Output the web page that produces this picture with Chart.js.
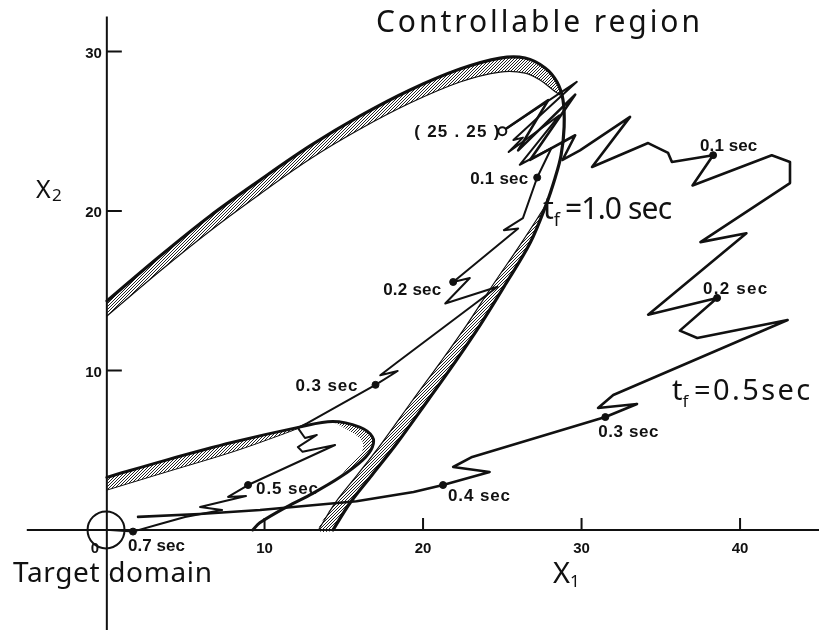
<!DOCTYPE html>
<html>
<head>
<meta charset="utf-8">
<title>Controllable region</title>
<script src="https://cdn.jsdelivr.net/npm/chart.js@4.4.1/dist/chart.umd.min.js"></script>
<style>
  html, body { margin: 0; padding: 0; background: #ffffff; }
  canvas { display: block; }
</style>
</head>
<body>
<canvas id="phase" width="819" height="630"></canvas>
<script>
// Axis ticks
const xTickValues = [10, 20, 30, 40];
const xTickLabels = ['10', '20', '30', '40'];
const yTickValues = [10, 20, 30];
const yTickLabels = ['10', '20', '30'];

// Controllable region for tf = 1.0 sec: outer boundary
const bigOuter = [
  [0.06, 14.36], [3.41, 17.18], [6.56, 19.69], [9.72, 21.94], [12.87, 24.08], [16.03, 25.96],
  [19.18, 27.59], [22.33, 28.9], [24.86, 29.59], [26.44, 29.59], [27.7, 28.97], [28.45, 28.09],
  [28.83, 26.96], [28.9, 25.27], [28.71, 23.51], [28.33, 22.07], [27.76, 20.38], [26.75, 17.99],
  [25.17, 15.36], [23.6, 12.85], [22.02, 10.53], [20.32, 8.15], [18.36, 5.45], [16.78, 3.45],
  [15.39, 1.69], [14.32, 0]
];
// inner edge of the hatched strip along the upper arc
const bigInnerTop = [
  [0.06, 13.42], [3.41, 16.24], [6.56, 18.75], [9.72, 21.07], [12.87, 23.26], [16.03, 25.14],
  [19.18, 26.77], [22.33, 28.09], [24.86, 28.71], [26.44, 28.65], [27.38, 28.21], [28.2, 27.59],
  [28.64, 27.27]
];
// inner edge of the hatched strip along the descending side
const bigInnerRight = [
  [27.76, 20.38], [26.2, 17.99], [24.4, 15.36], [22.75, 12.85], [21.1, 10.53], [19.35, 8.15],
  [17.4, 5.45], [15.85, 3.45], [14.45, 1.69], [13.4, 0]
];

// Controllable region for tf = 0.5 sec
const smallOuter = [
  [0.05, 3.3], [3.85, 4.4], [8.0, 5.5], [12.2, 6.45], [14.3, 6.8], [16.0, 6.45],
  [16.8, 5.85], [16.8, 5.2], [16.2, 4.4], [14.75, 3.3], [13.05, 2.3], [11.4, 1.45],
  [9.7, 0.45], [9.25, 0]
];
const smallInnerTop = [
  [0.05, 2.5], [3.85, 3.65], [8.0, 4.9], [11.0, 5.95], [12.2, 6.4]
];
const smallInnerRight = [
  [14.3, 6.8], [15.7, 6.0], [16.2, 5.5], [16.1, 4.8], [15.4, 4.1], [14.75, 3.3]
];

// Trajectories starting from the initial state (25, 25)
const pathTf10 = [
  [25, 25], [29.7, 28.1], [25.7, 24.45], [26.3, 24.6], [25.4, 23.7], [28.6, 26.0],
  [26.1, 22.9], [28.1, 23.95], [27.2, 22.1], [26.3, 19.55], [25.1, 18.8], [26.0, 18.9],
  [21.9, 15.55], [22.95, 15.8], [21.4, 14.2], [24.7, 15.25], [18.35, 10.5], [17.3, 9.7],
  [18.4, 9.97], [17.0, 9.1], [12.7, 6.7], [12.1, 6.4], [12.55, 5.77], [13.3, 5.96],
  [12.1, 5.2], [12.4, 4.9], [14.45, 5.33], [8.96, 2.82], [7.7, 2.07], [8.83, 2.13],
  [5.93, 1.44], [7.32, 1.25], [4.98, 0.82], [3.4, 0.38], [1.7, -0.1], [0.25, 0]
];
const pathTf05 = [
  [25, 25], [27.9, 26.95], [26.0, 23.8], [29.6, 27.3], [26.75, 23.2], [29.6, 24.75],
  [28.8, 23.2], [29.9, 23.8], [33.06, 25.9], [30.66, 22.76], [34.2, 24.26], [35.46, 23.64],
  [35.7, 23.07], [38.3, 23.5], [37.0, 21.6], [42.0, 23.5], [43.15, 23.07], [43.15, 21.75],
  [37.5, 18.05], [40.4, 18.6], [34.2, 13.5], [38.55, 14.55], [36.2, 12.5], [37.3, 12.04],
  [43.0, 13.17], [32.0, 8.46], [31.04, 7.65], [33.5, 7.9], [31.5, 7.08], [23.1, 4.58],
  [21.9, 3.95], [24.2, 3.64], [21.26, 2.82], [19.4, 2.38], [15.8, 1.8], [9.72, 1.25],
  [5.9, 1.0], [2.02, 0.82]
];

// Time marks along each trajectory
const tf10TimeLabels = ['0.1 sec', '0.2 sec', '0.3 sec', '0.5 sec', '0.7 sec'];
const tf10TimeX = [27.2, 21.9, 17.0, 8.96, 1.7];
const tf10TimeY = [22.1, 15.55, 9.1, 2.82, -0.1];
const tf05TimeLabels = ['0.1 sec', '0.2 sec', '0.3 sec', '0.4 sec'];
const tf05TimeX = [38.3, 38.55, 31.5, 21.26];
const tf05TimeY = [23.5, 14.55, 7.08, 2.82];

const startState = [25, 25];
const startLabel = '( 25 . 25 )';
const targetCenter = [0, 0];

// ---------------------------------------------------------------
const INK = '#111111';
const pts = arr => arr.map(([x, y]) => ({ x, y }));

function hatchPattern() {
  const c = document.createElement('canvas');
  c.width = 3; c.height = 3;
  const g = c.getContext('2d');
  g.strokeStyle = '#222222';
  g.lineWidth = 1;
  g.beginPath();
  g.moveTo(0, 3); g.lineTo(3, 0);
  g.moveTo(-1, 1); g.lineTo(1, -1);
  g.moveTo(2, 4); g.lineTo(4, 2);
  g.stroke();
  return g.createPattern(c, 'repeat');
}
const HATCH = hatchPattern();

function curve(data, width, tension) {
  return {
    data: pts(data), showLine: true, fill: false,
    borderColor: INK, borderWidth: width, tension: tension,
    pointRadius: 0, borderJoinStyle: 'round', borderCapStyle: 'round'
  };
}
function band(data) {
  return {
    data: pts(data), showLine: true, fill: 'shape',
    backgroundColor: HATCH, borderWidth: 0, borderColor: 'rgba(0,0,0,0)',
    tension: 0.3, pointRadius: 0
  };
}

// Text drawn with spacing adjusted to a set width
function fitText(ctx, str, x, y, font, width) {
  ctx.font = font;
  ctx.letterSpacing = '0px';
  if (width && str.length > 1) {
    const w = ctx.measureText(str).width;
    ctx.letterSpacing = ((width - w) / (str.length - 1)) + 'px';
  }
  ctx.fillText(str, x, y);
  ctx.letterSpacing = '0px';
}

const SMALL = 'bold 17px "Liberation Sans", Arial, sans-serif';
const TICK = 'bold 15px "Liberation Sans", Arial, sans-serif';
const BIG = '"Noto Sans", "DejaVu Sans", sans-serif';

const axesPlugin = {
  id: 'phaseAxes',
  beforeDatasetsDraw(chart) {
    const { ctx } = chart;
    const sx = chart.scales.x, sy = chart.scales.y;
    const x0 = sx.getPixelForValue(0.05), y0 = sy.getPixelForValue(0);
    ctx.save();
    ctx.strokeStyle = INK;
    ctx.lineWidth = 2;
    ctx.beginPath();
    ctx.moveTo(sx.getPixelForValue(-5), y0); ctx.lineTo(sx.right, y0);
    ctx.moveTo(x0, sy.getPixelForValue(32.2)); ctx.lineTo(x0, sy.bottom);
    xTickValues.forEach(v => {
      const p = sx.getPixelForValue(v);
      ctx.moveTo(p, y0); ctx.lineTo(p, y0 - 12);
    });
    yTickValues.forEach(v => {
      const p = sy.getPixelForValue(v);
      ctx.moveTo(x0, p); ctx.lineTo(x0 + 15, p);
    });
    ctx.stroke();

    ctx.fillStyle = INK;
    ctx.font = TICK;
    ctx.textBaseline = 'alphabetic';
    ctx.textAlign = 'center';
    xTickValues.forEach((v, i) => ctx.fillText(xTickLabels[i], sx.getPixelForValue(v), y0 + 23));
    ctx.fillText('0', sx.getPixelForValue(0) - 11, y0 + 23);
    ctx.textAlign = 'right';
    yTickValues.forEach((v, i) => ctx.fillText(yTickLabels[i], x0 - 5, sy.getPixelForValue(v) + 6));
    ctx.restore();
  }
};

const tf10LabelOffsets = [[-67, 6, 58], [-70, 13, 58], [-80, 6, 62], [8, 9, 62], [-5, 19, 57]];
const tf05LabelOffsets = [[-13, -4, 57], [-14, -4, 64], [-7, 20, 60], [5, 16, 62]];

const textPlugin = {
  id: 'phaseText',
  afterDatasetsDraw(chart) {
    const { ctx } = chart;
    const sx = chart.scales.x, sy = chart.scales.y;
    const px = v => sx.getPixelForValue(v), py = v => sy.getPixelForValue(v);
    ctx.save();
    ctx.fillStyle = INK;
    ctx.textAlign = 'left';
    ctx.textBaseline = 'alphabetic';

    tf10TimeLabels.forEach((t, i) => {
      const [dx, dy, w] = tf10LabelOffsets[i];
      fitText(ctx, t, px(tf10TimeX[i]) + dx, py(tf10TimeY[i]) + dy, SMALL, w);
    });
    tf05TimeLabels.forEach((t, i) => {
      const [dx, dy, w] = tf05LabelOffsets[i];
      fitText(ctx, t, px(tf05TimeX[i]) + dx, py(tf05TimeY[i]) + dy, SMALL, w);
    });
    fitText(ctx, startLabel, px(startState[0]) - 88, py(startState[1]) + 6, SMALL, 85);

    // region and axis titles
    fitText(ctx, 'Controllable region', px(17.03), py(31.22), '30px ' + BIG, 324);
    fitText(ctx, 'Target domain', px(-5.87), py(-3.26), '28px ' + BIG, 199);

    // axis names with subscripts
    ctx.font = '25px ' + BIG;
    ctx.fillText('X', px(-4.42), py(20.8));
    ctx.font = '17px ' + BIG;
    ctx.fillText('2', px(-4.42) + 16, py(20.8) + 3);
    ctx.font = '29px ' + BIG;
    ctx.fillText('X', px(28.2), py(-3.32));
    ctx.font = '17px ' + BIG;
    ctx.fillText('1', px(28.2) + 17, py(-3.32) + 4);

    // final-time annotations
    const tLabel = (x, y, rest, restWidth, size) => {
      ctx.font = size + 'px ' + BIG;
      ctx.fillText('t', x, y);
      const tw = ctx.measureText('t').width;
      ctx.font = Math.round(size * 0.6) + 'px ' + BIG;
      ctx.fillText('f', x + tw, y + 7);
      fitText(ctx, rest, x + 22, y, size + 'px ' + BIG, restWidth);
    };
    tLabel(px(27.57), py(19.5), '=1.0 sec', 107, 30);
    tLabel(px(35.71), py(8.15), '=0.5sec', 116, 29);
    ctx.restore();
  }
};

const datasets = [
  // time marks and special points (drawn on top)
  {
    data: pts([targetCenter]), pointRadius: 18.5, pointBackgroundColor: 'rgba(0,0,0,0)',
    pointBorderColor: INK, pointBorderWidth: 2, showLine: false
  },
  {
    data: pts([startState]), pointRadius: 4, pointBackgroundColor: '#ffffff',
    pointBorderColor: INK, pointBorderWidth: 2, showLine: false
  },
  {
    data: tf10TimeX.map((x, i) => ({ x, y: tf10TimeY[i] })),
    pointRadius: 3.5, pointBackgroundColor: INK, pointBorderColor: INK, showLine: false
  },
  {
    data: tf05TimeX.map((x, i) => ({ x, y: tf05TimeY[i] })),
    pointRadius: 3.5, pointBackgroundColor: INK, pointBorderColor: INK, showLine: false
  },
  // trajectories
  curve(pathTf10, 2, 0),
  curve(pathTf05, 2.6, 0),
  // region boundaries
  curve(bigOuter, 3.2, 0.35),
  curve(smallOuter, 3, 0.35),
  curve(bigInnerTop, 1.2, 0.35),
  curve(bigInnerRight, 1.2, 0.35),
  curve(smallInnerTop, 1, 0.35),
  // hatched strips
  band(bigOuter.slice(0, 13).concat(bigInnerTop.slice().reverse())),
  band(bigOuter.slice(16).concat(bigInnerRight.slice().reverse())),
  band(smallOuter.slice(0, 4).concat(smallInnerTop.slice().reverse())),
  band(smallOuter.slice(4, 10).concat(smallInnerRight.slice().reverse()))
];

new Chart(document.getElementById('phase').getContext('2d'), {
  type: 'scatter',
  data: { datasets },
  options: {
    responsive: false,
    animation: false,
    devicePixelRatio: 1,
    layout: { padding: 0, autoPadding: false },
    plugins: { legend: { display: false }, tooltip: { enabled: false } },
    scales: {
      x: { type: 'linear', min: -6.69, max: 44.98, display: false },
      y: { type: 'linear', min: -6.27, max: 33.23, display: false }
    }
  },
  plugins: [axesPlugin, textPlugin]
});
</script>
</body>
</html>
